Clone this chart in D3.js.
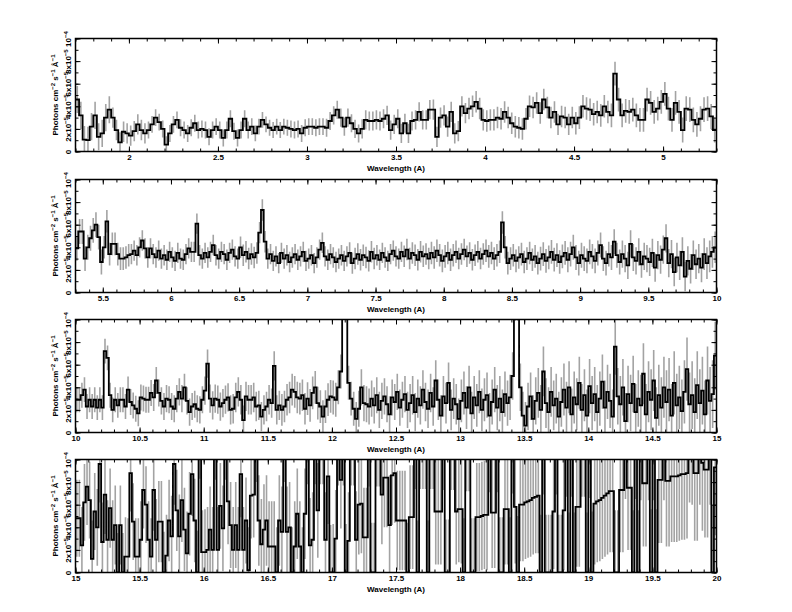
<!DOCTYPE html>
<html><head><meta charset="utf-8">
<script src="https://cdn.jsdelivr.net/npm/d3@7"></script>
<style>
body{margin:0;background:#fff}
text{font-family:"Liberation Sans",Arial,sans-serif}
</style>
</head><body>
<svg id="chart" width="792" height="612"></svg>
<script>
// ---------------- DATA (flux in units of 1e-5 photons cm^-2 s^-1 A^-1) ----------------
const binWidth = 0.02;
const starts = [1.7, 5.3, 10, 15];
const domains = [[1.7, 5.3], [5.3, 10], [10, 15], [15, 20]];
const xTicks1 = [2, 2.5, 3, 3.5, 4, 4.5, 5];
const xTicks2 = [5.5, 6, 6.5, 7, 7.5, 8, 8.5, 9, 9.5, 10];
const xTicks3 = [10, 10.5, 11, 11.5, 12, 12.5, 13, 13.5, 14, 14.5, 15];
const xTicks4 = [15, 15.5, 16, 16.5, 17, 17.5, 18, 18.5, 19, 19.5, 20];
const yTickValues = [0, 2, 4, 6, 8, 10];
const yTickMain = ["0", "2x10", "4x10", "6x10", "8x10", "10"];
const yTickSup = ["", "\u22125", "\u22125", "\u22125", "\u22125", "\u22124"];
const xTitle = "Wavelength (A)";

const flux1 = [
4.6,3.2,1.05,1.0,2.2,3.2,1.3,1.6,3.0,3.7,
3.0,1.9,0.8,1.75,1.6,1.4,1.8,2.4,1.9,1.6,
1.9,2.4,3.0,2.6,2.0,0.6,1.6,2.4,2.8,2.1,
1.9,1.6,2.1,2.5,1.9,2.0,1.9,1.3,1.9,2.2,
1.9,1.2,1.9,2.9,1.8,1.2,1.9,2.9,1.9,2.2,
1.6,2.2,2.8,2.4,2.1,1.9,2.2,1.9,2.2,2.1,
2.0,1.9,2.0,1.6,2.1,2.2,2.2,2.1,2.2,2.2,
2.1,2.7,3.2,3.7,3.0,2.2,3.0,2.5,2.0,1.6,
2.0,2.8,2.7,2.7,2.8,2.7,2.9,3.2,1.9,2.4,
2.9,1.6,2.5,1.6,2.7,2.8,3.5,2.8,2.8,3.7,
3.7,1.3,3.0,3.2,2.2,3.5,1.6,1.8,4.0,3.4,
3.8,4.0,4.4,3.8,2.8,2.7,2.8,2.8,3.0,2.9,
3.5,3.0,2.5,2.2,2.1,2.0,2.9,4.0,3.9,4.3,
3.4,4.6,3.9,3.0,3.5,2.4,3.1,3.0,2.4,3.0,
2.5,3.0,4.0,3.8,3.7,3.3,3.5,3.2,4.0,3.5,
3.2,6.9,4.6,3.2,3.6,3.5,3.7,3.2,2.8,2.8,
4.6,4.3,3.5,3.8,4.4,5.1,3.8,2.8,4.3,3.5,
1.9,3.8,3.7,2.8,2.4,2.9,3.7,3.8,3.1,1.9];

const flux2 = [
3.9,5.4,5.4,3.0,4.0,4.8,5.5,6.0,4.9,2.7,
4.0,6.3,3.4,4.3,4.3,3.4,3.0,3.0,3.1,3.3,
3.4,3.7,3.3,4.0,4.6,3.9,3.1,3.9,3.4,3.1,
3.7,3.0,3.3,2.9,3.6,3.1,2.8,3.5,3.0,2.9,
3.4,3.9,3.6,3.6,6.1,3.3,3.0,3.5,3.1,3.6,
4.2,3.3,3.0,3.6,3.4,2.9,3.5,3.8,3.2,3.0,
4.0,3.3,3.6,3.0,3.4,3.1,3.5,5.3,7.3,4.5,
3.0,3.4,2.8,3.2,2.6,3.5,3.0,3.3,2.7,3.1,
3.4,2.9,3.2,3.6,2.8,3.0,3.3,2.6,3.1,3.8,
4.4,3.2,2.9,3.4,3.1,2.7,3.0,3.3,2.8,3.2,
3.5,2.6,3.0,3.4,2.9,3.3,3.1,2.8,3.6,3.0,
3.3,2.9,3.5,3.1,2.8,3.4,3.7,3.2,3.0,3.6,
3.2,3.8,3.0,3.5,3.3,2.9,3.6,3.2,3.4,3.0,
3.5,3.1,3.7,3.3,2.8,3.2,3.5,2.9,3.3,3.6,
3.0,3.4,3.8,3.2,3.5,2.9,3.3,3.6,3.0,3.4,
3.7,3.2,3.5,3.0,3.3,3.6,6.2,4.0,2.6,3.0,
3.3,2.8,3.1,3.4,2.7,3.0,3.5,2.9,3.2,2.6,
3.0,3.4,2.8,3.1,3.6,2.9,3.3,2.7,3.2,3.5,
2.9,3.4,4.0,3.1,2.6,3.3,3.0,2.8,3.6,3.2,
2.8,3.5,4.2,3.0,2.6,3.4,3.1,4.5,3.3,2.7,
3.4,3.0,2.4,4.3,3.1,2.8,3.6,2.5,3.2,3.0,
2.7,3.5,2.2,3.3,2.9,3.8,4.8,2.6,3.4,1.8,
3.1,2.4,3.6,1.4,2.8,2.1,3.3,2.5,3.0,2.2,
3.4,2.6,3.2,3.6,4.0];

const flux3 = [
2.9,2.9,3.3,3.8,2.3,2.9,2.3,2.9,2.2,2.9,
2.2,7.2,6.6,3.3,2.0,2.9,2.4,2.9,2.9,2.3,
3.8,2.7,2.4,2.1,1.7,3.1,3.0,2.9,2.9,3.5,
3.1,4.6,3.5,2.8,2.3,3.0,2.9,2.3,2.1,3.0,
3.6,3.0,4.0,2.8,1.8,2.3,2.5,2.1,2.0,2.9,
3.7,6.1,3.0,2.4,3.0,2.9,2.3,2.6,2.9,3.1,
2.0,2.1,3.1,3.6,2.9,1.1,3.2,2.9,2.9,3.1,
2.3,2.4,1.4,2.0,2.3,2.9,2.6,5.9,2.0,2.4,
2.0,2.3,2.9,3.1,3.8,3.6,3.1,3.0,3.3,2.1,
3.0,2.4,3.5,4.0,2.6,2.3,1.4,2.3,2.9,3.2,
3.1,2.9,4.0,5.4,12,12,4.4,3.0,2.1,1.2,
2.1,4.0,2.6,2.5,2.3,3.0,2.4,3.3,2.0,2.8,
3.2,2.5,1.6,3.1,2.7,3.6,2.2,2.9,3.4,2.0,
2.6,3.3,1.8,3.0,2.4,3.8,2.7,2.1,3.5,2.3,
4.6,2.9,1.5,3.2,2.6,4.4,2.0,3.0,2.5,1.2,
2.8,3.5,2.2,4.0,1.7,3.1,2.4,3.6,2.0,2.9,
3.3,1.5,2.7,3.8,2.2,3.0,1.8,3.4,2.6,3.1,
5.0,12,12,4.0,1.5,0.6,2.3,3.2,1.2,2.8,
3.5,2.0,5.4,2.6,1.8,3.6,2.4,3.0,1.4,2.7,
3.8,2.2,4.0,1.6,3.1,2.5,4.4,2.0,3.3,1.5,
4.1,2.6,3.4,1.8,3.0,4.5,2.2,3.6,2.8,1.4,
7.6,3.2,2.5,4.0,1.0,3.4,2.6,4.3,1.8,3.0,
2.4,5.2,1.6,3.6,2.9,4.6,1.3,3.3,2.2,4.0,
2.7,3.8,1.5,4.4,2.4,3.1,1.9,3.6,5.6,2.5,
3.3,1.8,4.2,2.6,3.7,1.6,4.6,2.8,3.4,6.8];

const flux4 = [
4.8,4.8,2.4,6.2,7.6,6.4,1.2,5.4,4.0,9.6,
2.7,6.9,2.9,5.7,2.9,4.2,0,4.2,0,1.4,
1.4,8.8,4.5,1.4,1.4,2.9,7.3,6.0,2.9,1.4,
7.3,2.9,4.5,4.5,0,1.5,4.6,3.2,9.6,5.5,
3.2,6.4,3.8,1.7,5.2,8.7,4.6,0,12,1.8,
1.8,2.0,3.8,2.0,12,2.0,5.9,3.9,12,6.3,
4.2,2.0,4.2,2.0,8.7,2.0,4.6,0.2,6.8,6.9,
12,4.6,2.5,3.8,4.6,2.3,2.3,2.3,0,4.6,
3.6,12,3.6,4.0,0,2.3,5.2,2.3,0,5.2,
12,2.4,2.9,12,5.5,12,12,2.9,8.5,0,
0,3.0,12,8.2,12,0,2.8,12,12,2.9,
6.0,6.1,3.1,3.1,12,0,0,12,12,6.9,
8.4,8.4,4.2,8.6,8.8,4.6,4.6,4.6,4.6,0,
4.9,4.9,12,0,12,12,12,0,12,12,
5.4,5.4,5.4,12,0,0,12,12,5.4,5.6,
5.6,0,12,12,0,0,4.9,4.9,5.0,5.1,
5.1,12,5.3,5.3,12,0,0,5.6,5.6,0,
12,5.8,0,6.0,6.0,6.2,6.3,6.4,6.6,6.7,
6.8,0,12,0,0,0,5.4,12,0,0,
5.5,12,0,12,0,5.8,5.8,12,12,0,
12,0,6.1,6.3,6.4,6.6,6.8,7.0,7.2,7.2,
0,0,7.3,7.3,12,7.5,7.5,0,12,0,
12,7.9,7.9,12,0,12,0,8.2,8.2,12,
8.1,8.1,8.5,8.5,8.5,8.6,8.7,8.7,8.8,12,
12,8.8,8.8,12,9.7,9.1,9.1,12,0,9.3];

// one error estimate per 0.2 A (10 bins)
const err1 = [1.2,0.9,0.75,0.75,0.75,0.7,0.75,0.8,0.85,0.85,0.9,0.95,0.95,0.95,1.0,1.05,1.05,1.1];
const err2 = [1.1,1.0,0.9,0.9,0.9,0.9,0.95,0.9,0.9,0.9,0.95,0.9,0.95,1.0,0.95,1.0,1.0,1.05,1.1,1.1,1.2,1.25,1.3,1.4];
const err3 = [1.1,1.1,1.15,1.2,1.2,1.25,1.3,1.3,1.4,1.45,1.5,1.6,1.6,1.7,1.8,1.9,2.0,2.1,2.2,2.3,2.4,2.5,2.7,2.8,3.0];
const err4 = [3.4,3.5,3.4,3.6,3.7,3.8,3.8,4.0,4.0,4.2,4.3,4.4,4.4,4.6,4.7,4.8,4.9,5.0,5.1,5.3,5.4,5.5,5.6,5.8,6.0];

const fluxes = [flux1, flux2, flux3, flux4];
const errs = [err1, err2, err3, err4];
const xTicks = [xTicks1, xTicks2, xTicks3, xTicks4];

// ---------------- LAYOUT ----------------
const svg = d3.select("#chart");
const left = 75.5, right = 716.5, panelH = 113;
const tops = [38.5, 179.5, 319.5, 459.5];

fluxes.forEach((flux, p) => {
  const top = tops[p], bottom = top + panelH;
  const x = d3.scaleLinear().domain(domains[p]).range([left, right]);
  const y = d3.scaleLinear().domain([0, 10]).range([bottom, top]);
  const g = svg.append("g");

  const clipId = "clip" + p;
  svg.append("clipPath").attr("id", clipId)
    .append("rect").attr("x", left).attr("y", top).attr("width", right - left).attr("height", panelH);

  const bins = flux.map((v, i) => ({
    x0: starts[p] + i * binWidth,
    v: v,
    e: errs[p][Math.floor(i / 10)]
  }));

  const plot = g.append("g").attr("clip-path", `url(#${clipId})`);
  plot.selectAll("line.err").data(bins).join("line")
    .attr("class", "err")
    .attr("x1", d => x(d.x0 + binWidth / 2)).attr("x2", d => x(d.x0 + binWidth / 2))
    .attr("y1", d => y(Math.max(0, d.v - d.e))).attr("y2", d => y(d.v + d.e))
    .attr("stroke", "#a3a3a3").attr("stroke-width", 1.6);

  const pts = bins.map(d => [d.x0, d.v]);
  pts.push([starts[p] + flux.length * binWidth, flux[flux.length - 1]]);
  const line = d3.line().x(d => x(d[0])).y(d => y(d[1])).curve(d3.curveStepAfter);
  plot.append("path").attr("d", line(pts))
    .attr("fill", "none").attr("stroke", "#000").attr("stroke-width", 1.8)
    .attr("stroke-linejoin", "miter");

  const [d0, d1] = domains[p];
  const minor = d3.range(Math.ceil(d0 * 10 - 1e-6), Math.floor(d1 * 10 + 1e-6) + 1).map(k => k / 10);
  const yMinor = d3.range(0, 11);

  const axB = d3.axisBottom(x).tickValues(minor).tickSizeInner(-3).tickSizeOuter(0).tickFormat("");
  const axT = d3.axisTop(x).tickValues(minor).tickSizeInner(-3).tickSizeOuter(0).tickFormat("");
  g.append("g").attr("transform", `translate(0,${bottom})`).call(axB);
  g.append("g").attr("transform", `translate(0,${top})`).call(axT);
  const axBM = d3.axisBottom(x).tickValues(xTicks[p]).tickSizeInner(-5).tickSizeOuter(0).tickPadding(3)
    .tickFormat(d => String(d));
  const axTM = d3.axisTop(x).tickValues(xTicks[p]).tickSizeInner(-5).tickSizeOuter(0).tickFormat("");
  const gb = g.append("g").attr("transform", `translate(0,${bottom})`).call(axBM);
  g.append("g").attr("transform", `translate(0,${top})`).call(axTM);
  gb.selectAll("text").attr("font-size", 8).attr("font-weight", "bold").attr("fill", "#000")
    .attr("font-family", "Liberation Sans, Arial, sans-serif");

  const axL = d3.axisLeft(y).tickValues(yMinor).tickSizeInner(-3).tickSizeOuter(0).tickFormat("");
  const axR = d3.axisRight(y).tickValues(yMinor).tickSizeInner(-3).tickSizeOuter(0).tickFormat("");
  g.append("g").attr("transform", `translate(${left},0)`).call(axL);
  g.append("g").attr("transform", `translate(${right},0)`).call(axR);
  const axLM = d3.axisLeft(y).tickValues(yTickValues).tickSizeInner(-5).tickSizeOuter(0).tickFormat("");
  const axRM = d3.axisRight(y).tickValues(yTickValues).tickSizeInner(-5).tickSizeOuter(0).tickFormat("");
  const gl = g.append("g").attr("transform", `translate(${left},0)`).call(axLM);
  g.append("g").attr("transform", `translate(${right},0)`).call(axRM);

  g.selectAll(".domain").remove();
  g.selectAll(".tick line").attr("stroke", "#000").attr("stroke-width", 1);

  gl.selectAll(".tick").each(function(d, i) {
    const t = d3.select(this).append("text")
      .attr("transform", "rotate(-90)")
      .attr("x", 0).attr("y", -5)
      .attr("text-anchor", "middle")
      .attr("font-size", 8).attr("font-weight", "bold").attr("fill", "#000");
    t.append("tspan").text(yTickMain[i]);
    if (yTickSup[i]) t.append("tspan").attr("dy", -3).attr("font-size", 6).text(yTickSup[i]);
  });

  g.append("rect").attr("x", left).attr("y", top).attr("width", right - left).attr("height", panelH)
    .attr("fill", "none").attr("stroke", "#000").attr("stroke-width", 1.5);

  const yt = g.append("text")
    .attr("transform", `translate(58,${(top + bottom) / 2}) rotate(-90)`)
    .attr("text-anchor", "middle").attr("font-size", 8).attr("font-weight", "bold");
  yt.append("tspan").text("Photons cm");
  yt.append("tspan").attr("dy", -3).attr("font-size", 6).text("\u22122");
  yt.append("tspan").attr("dy", 3).text(" s");
  yt.append("tspan").attr("dy", -3).attr("font-size", 6).text("\u22121");
  yt.append("tspan").attr("dy", 3).text(" \u00C5");
  yt.append("tspan").attr("dy", -3).attr("font-size", 6).text("\u22121");

  g.append("text").attr("x", (left + right) / 2).attr("y", bottom + 19)
    .attr("text-anchor", "middle").attr("font-size", 8).attr("font-weight", "bold")
    .text(xTitle);
});
</script>
</body></html>
